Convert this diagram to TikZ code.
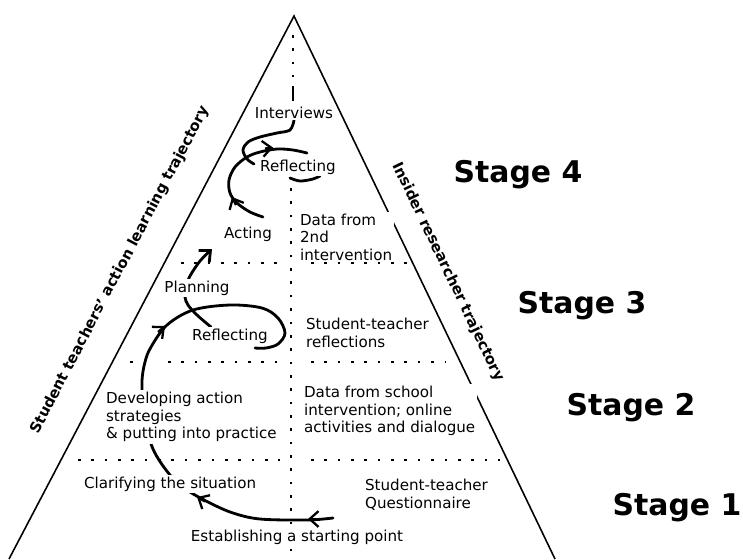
\documentclass[tikz,border=0pt]{standalone}
\usepackage{fontspec}
\setmainfont{DejaVu Sans}
\usetikzlibrary{arrows.meta,backgrounds}

\tikzset{
  txt/.style={font=\fontsize{8.6}{10}\selectfont, fill=white, inner sep=1pt},
  stagetxt/.style={font=\fontsize{17}{20}\selectfont\bfseries, anchor=base},
  sidetxt/.style={font=\fontsize{8.4}{10}\selectfont\bfseries},
  spiral/.style={line width=1.6pt, line cap=round},
  dotline/.style={line width=1.5pt, dash pattern=on 1.5pt off 6.1pt},
  barb/.style={line width=1.3pt, -{Straight Barb[length=5pt,width=9pt]}},
}

\begin{document}
\begin{tikzpicture}[x=0.02cm,y=-0.02cm]
\useasboundingbox (0,0) rectangle (743,559);
% pyramid
\coordinate (apex) at (294,16);
\coordinate (baseL) at (9,559);
\coordinate (baseR) at (555,559);
\draw[line width=0.9pt] (baseL) -- (apex) -- (baseR);

% student teacher side
\node[txt, anchor=base] (interviews) at (294,118) {Interviews};
\node[txt, anchor=base] (reflfour) at (298,171) {Reflecting};
\node[txt, anchor=base] (acting) at (248,238) {Acting};
\node[txt, anchor=base] (planning) at (197,292) {Planning};
\node[txt, anchor=base] (reflthree) at (230,340) {Reflecting};
\node[txt, anchor=west, align=left] (developing) at (104,417) {Developing action\\strategies\\\& putting into practice};
\node[txt, anchor=base west] (clarifying) at (82,488) {Clarifying the situation};
\node[txt, anchor=base] (establishing) at (297,541) {Establishing a starting point};

% researcher side
\node[txt, anchor=west, align=left] (datatwo) at (298,237) {Data from\\2nd\\intervention};
\node[txt, anchor=west, align=left] (streflect) at (304,333) {Student-teacher\\reflections};
\node[txt, anchor=west, align=left] (dataschool) at (302,411) {Data from school\\intervention; online\\activities and dialogue};
\node[txt, anchor=west, align=left] (questionnaire) at (363,495) {Student-teacher\\Questionnaire};

% trajectories
\node[sidetxt, rotate=62.3] (learnside) at (120,270) {Student teachers' action learning trajectory};
\node[sidetxt, rotate=-64.4] (insideside) at (448,272) {Insider researcher trajectory};

% stages
\node[stagetxt] (stagefour) at (518,182) {Stage 4};
\node[stagetxt] (stagethree) at (582,313) {Stage 3};
\node[stagetxt] (stagetwo) at (631,415) {Stage 2};
\node[stagetxt] (stageone) at (677,515) {Stage 1};

\begin{scope}[on background layer]
% dotted divisions
\draw[dotline] (293,35) -- (293,77);
\draw[line width=1.6pt] (293,86) -- (293,101);
\draw[dotline] (291,188) -- (291,557);
\draw[dotline] (181,263) -- (277,263);
\draw[dotline] (311,263) -- (407,263);
\draw[dotline] (130,362) -- (133,362);
\draw[dotline] (168,362) -- (277,362);
\draw[dotline] (311,362) -- (445,362);
\draw[dotline] (78,460) -- (280,460);
\draw[dotline] (311,460) -- (500,460);

% lower cycle
\draw[spiral] plot[smooth, tension=0.55] coordinates {(333,518) (307,520) (260,519) (233,513) (210,503) (187,490) (170,475) (153,449) (144,415) (142,382) (145,362) (151,347) (167,325) (193,310) (230,305) (262,308) (278,318) (285,333) (278,344) (266,348) (255,348)};
\draw[barb] (316,519) -- (308,519);
\draw[barb] (205,501.5) -- (197,497);
\draw[barb] (158,332) -- (165,326);
\draw[spiral, -{Straight Barb[length=5pt,width=9pt]}] plot[smooth, tension=0.55] coordinates {(211,327) (197,315) (188,305) (185,297) (186,287) (190,276) (200,261) (212,249)};

% upper cycle
\draw[spiral] plot[smooth, tension=0.55] coordinates {(263,217) (250,212) (237,203) (230,193) (229,180) (235,167) (247,157) (260,152) (277,149) (293,150) (307,153)};
\draw[barb] (265,148.5) -- (273,147.5);
\draw[barb] (236,205) -- (232,197);
\draw[spiral] plot[smooth, tension=0.55] coordinates {(290,178) (300,181) (313,179) (320,176)};
\draw[spiral] plot[smooth, tension=0.55] coordinates {(interviews.south) (290,130) (277,133) (260,137) (248,142) (243,150) (247,159) (254,164)};
\end{scope}
\end{tikzpicture}
\end{document}
